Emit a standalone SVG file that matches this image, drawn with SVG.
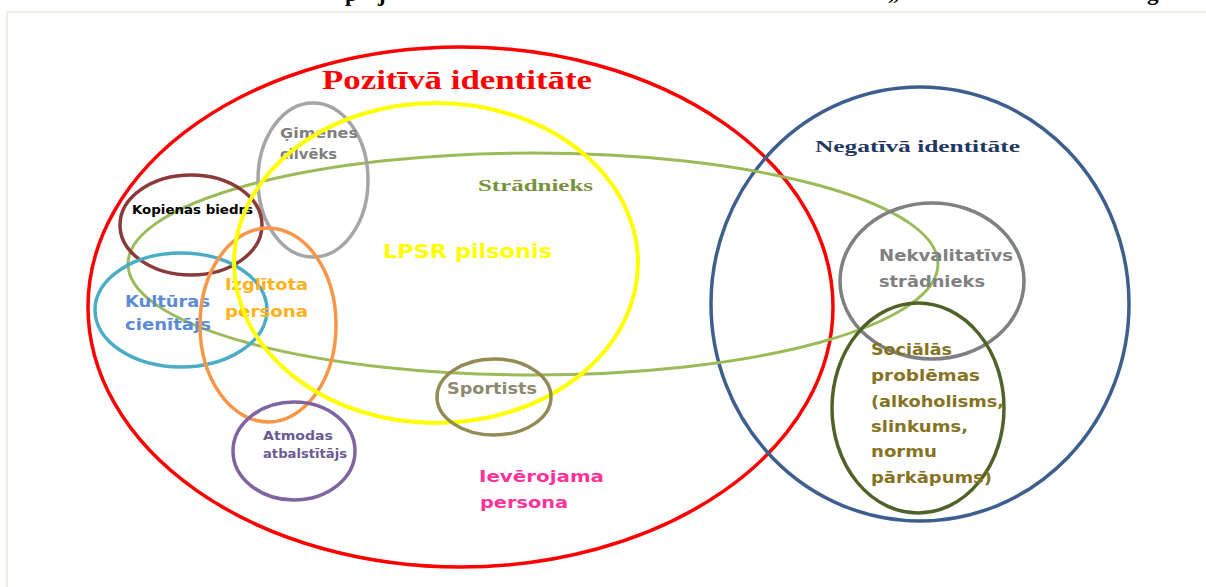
<svg xmlns="http://www.w3.org/2000/svg" width="1206" height="587" viewBox="0 0 1206 587">
<style>
.ring{fill:none;}
.s{font-family:"DejaVu Sans","Liberation Sans",sans-serif;font-weight:bold;}
.r{font-family:"Liberation Serif","DejaVu Serif",serif;font-weight:bold;}
</style>
<rect x="0" y="0" width="1206" height="587" fill="#ffffff"/>
<g id="frame">
<path d="M7,587 V12 H1206" fill="none" stroke="#eef0dd" stroke-width="2"/>
<text class="r" x="345" y="1" font-size="23" fill="#000">p</text>
<text class="r" x="378" y="1" font-size="23" fill="#000">j</text>
<text class="r" x="888" y="-1" font-size="23" fill="#000" font-weight="normal">„</text>
<text class="r" x="1147" y="0" font-size="23" fill="#000" font-weight="normal">g</text>
</g>
<g id="pozitiva">
<ellipse class="ring" cx="460.5" cy="307" rx="372.5" ry="260" stroke="#ff0000" stroke-width="3.5"/>
<text class="r" x="322" y="89" font-size="27" fill="#ff0000" textLength="270" lengthAdjust="spacingAndGlyphs">Pozitīvā identitāte</text>
</g>
<g id="negativa">
<ellipse class="ring" cx="920" cy="304" rx="209" ry="217" stroke="#3c5f8f" stroke-width="3.5"/>
<text class="r" x="815" y="152" font-size="17" fill="#1f3864" textLength="205" lengthAdjust="spacingAndGlyphs">Negatīvā identitāte</text>
</g>
<g id="stradnieks">
<ellipse class="ring" cx="533" cy="264" rx="405" ry="111" stroke="#9bbb59" stroke-width="3"/>
<text class="r" x="478" y="191" font-size="17" fill="#76923c" textLength="115" lengthAdjust="spacingAndGlyphs">Strādnieks</text>
</g>
<g id="gimenes">
<ellipse class="ring" cx="313" cy="180" rx="55" ry="77" stroke="#a5a5a5" stroke-width="3.5"/>
<text class="s" x="280" y="138" font-size="14" fill="#7f7f7f" font-weight="normal" textLength="78" lengthAdjust="spacingAndGlyphs">Ģimenes</text>
<text class="s" x="280" y="159" font-size="14" fill="#7f7f7f" font-weight="normal" textLength="57" lengthAdjust="spacingAndGlyphs">cilvēks</text>
</g>
<g id="kopienas">
<ellipse class="ring" cx="191" cy="225" rx="71" ry="50" stroke="#8b3a3a" stroke-width="3.5"/>
<text class="s" x="132" y="214" font-size="12.5" fill="#000000" textLength="121" lengthAdjust="spacingAndGlyphs">Kopienas biedrs</text>
</g>
<g id="kulturas">
<ellipse class="ring" cx="181" cy="310" rx="86" ry="57" stroke="#4bacc6" stroke-width="3.5"/>
<text class="s" x="125" y="307" font-size="16" fill="#5b8bd6" textLength="85" lengthAdjust="spacingAndGlyphs">Kultūras</text>
<text class="s" x="125" y="330" font-size="16" fill="#5b8bd6" textLength="86" lengthAdjust="spacingAndGlyphs">cienītājs</text>
</g>
<g id="izglitota">
<ellipse class="ring" cx="268" cy="325" rx="68" ry="97" stroke="#f79646" stroke-width="3.5"/>
<text class="s" x="225" y="290" font-size="16" fill="#ffb21c" textLength="83" lengthAdjust="spacingAndGlyphs">Izglītota</text>
<text class="s" x="225" y="317" font-size="16" fill="#ffb21c" textLength="83" lengthAdjust="spacingAndGlyphs">persona</text>
</g>
<g id="lpsr">
<ellipse class="ring" cx="436" cy="263" rx="202" ry="160" stroke="#ffff00" stroke-width="4"/>
<text class="s" x="383" y="258" font-size="19" fill="#ffff00" textLength="169" lengthAdjust="spacingAndGlyphs">LPSR pilsonis</text>
</g>
<g id="atmodas">
<ellipse class="ring" cx="294" cy="451" rx="61" ry="49" stroke="#8064a2" stroke-width="3.5"/>
<text class="s" x="263" y="440" font-size="12.5" fill="#6b5b95" textLength="70" lengthAdjust="spacingAndGlyphs">Atmodas</text>
<text class="s" x="263" y="458" font-size="12.5" fill="#6b5b95" textLength="84" lengthAdjust="spacingAndGlyphs">atbalstītājs</text>
</g>
<g id="sportists">
<ellipse class="ring" cx="494" cy="397" rx="57" ry="38" stroke="#948a54" stroke-width="3.5"/>
<text class="s" x="447" y="394" font-size="15" fill="#8c8a6c" textLength="90" lengthAdjust="spacingAndGlyphs">Sportists</text>
</g>
<g id="ieverojama">
<text class="s" x="479" y="482" font-size="16" fill="#ff3399" textLength="125" lengthAdjust="spacingAndGlyphs">Ievērojama</text>
<text class="s" x="480" y="508" font-size="16" fill="#ff3399" textLength="88" lengthAdjust="spacingAndGlyphs">persona</text>
</g>
<g id="nekvalitativs">
<ellipse class="ring" cx="932" cy="281" rx="92" ry="78" stroke="#808080" stroke-width="3.5"/>
<text class="s" x="879" y="261" font-size="16" fill="#808080" textLength="134" lengthAdjust="spacingAndGlyphs">Nekvalitatīvs</text>
<text class="s" x="879" y="287" font-size="16" fill="#808080" textLength="106" lengthAdjust="spacingAndGlyphs">strādnieks</text>
</g>
<g id="socialas">
<ellipse class="ring" cx="918" cy="408" rx="86" ry="105" stroke="#4f6228" stroke-width="3.5"/>
<g class="s" font-size="16" fill="#85731f">
<text x="871" y="355" textLength="81" lengthAdjust="spacingAndGlyphs">Sociālās</text>
<text x="871" y="381" textLength="109" lengthAdjust="spacingAndGlyphs">problēmas</text>
<text x="871" y="407" textLength="133" lengthAdjust="spacingAndGlyphs">(alkoholisms,</text>
<text x="871" y="432" textLength="97" lengthAdjust="spacingAndGlyphs">slinkums,</text>
<text x="871" y="457" textLength="66" lengthAdjust="spacingAndGlyphs">normu</text>
<text x="871" y="483" textLength="121" lengthAdjust="spacingAndGlyphs">pārkāpums)</text>
</g>
</g>
</svg>
